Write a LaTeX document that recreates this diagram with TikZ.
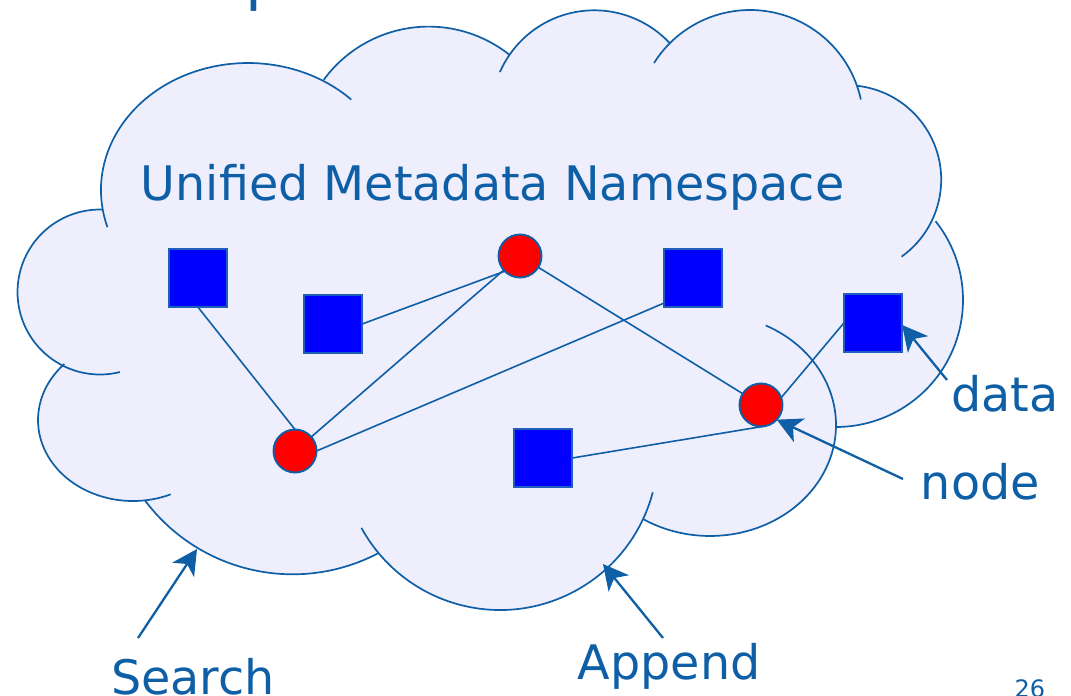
\documentclass[tikz,border=0pt]{standalone}
\usepackage{fontspec}
\setmainfont{DejaVu Sans}
\usetikzlibrary{arrows.meta,calc}
\definecolor{linecol}{RGB}{14,95,166}
\definecolor{cloudbg}{RGB}{238,238,252}
\definecolor{sqblue}{RGB}{0,0,255}
\definecolor{dotred}{RGB}{255,0,0}
\definecolor{sqedge}{RGB}{30,95,190}
\begin{document}
\begin{tikzpicture}[x=1pt,y=1pt,
  cloudline/.style={draw=linecol,line width=1.7pt},
  edge/.style={draw=linecol,line width=1.6pt},
  datasq/.style={draw=sqedge,fill=sqblue,line width=1.7pt,minimum size=58.3pt,inner sep=0pt,outer sep=0pt},
  nodedot/.style={circle,draw=linecol,fill=dotred,line width=1.9pt,minimum size=43pt,inner sep=0pt,outer sep=0pt},
  ptr/.style={draw=linecol,line width=2.3pt,-{Stealth[length=25pt,width=26pt,inset=7pt]}},
  lbl/.style={text=linecol,font=\fontsize{47.6}{57}\selectfont,inner sep=0pt,anchor=base west}]
\useasboundingbox (0,0) rectangle (1071,-696);
% cloud fill
\fill[cloudbg]
 ($(248,-190)+(188.6:147 and 127)$) arc[start angle=188.6,end angle=59.2,x radius=147,y radius=127]
 -- ($(428.6,-156.6)+(143.8:130)$) arc[start angle=143.8,end angle=51.6,radius=130]
 -- ($(594.3,-113.3)+(145.7:103)$) arc[start angle=145.7,end angle=42.9,radius=103]
 -- ($(750,-123.4)+(134.9:113.4)$) arc[start angle=134.9,end angle=19.3,radius=113.4]
 -- ($(846.7,-179.7)+(83.5:94.5)$) arc[start angle=83.5,end angle=-25.8,radius=94.5]
 -- ($(836,-300)+(38.4:127)$) arc[start angle=38.4,end angle=-90,radius=127]
 -- ($(710,-425)+(0:126 and 111)$) arc[start angle=0,end angle=-122.1,x radius=126,y radius=111]
 -- ($(500,-452)+(-25.1:158)$) arc[start angle=-25.1,end angle=-140.4,radius=158]
 -- ($(292.6,-389.8)+(-62.4:184.5)$) arc[start angle=-62.4,end angle=-143.3,radius=184.5]
 -- ($(133,-420)+(277.3:95 and 81)$) arc[start angle=277.3,end angle=136.3,x radius=95,y radius=81]
 -- ($(100,-292)+(242.5:82.5)$) arc[start angle=242.5,end angle=88.6,radius=82.5]
 -- cycle;
% cloud outline with inner tails
\draw[cloudline] ($(248,-190)+(197:147 and 127)$) arc[start angle=197,end angle=45.4,x radius=147,y radius=127];
\draw[cloudline] ($(428.6,-156.6)+(143.8:130)$) arc[start angle=143.8,end angle=51.6,radius=130];
\draw[cloudline] ($(594.3,-113.3)+(156.4:103)$) arc[start angle=156.4,end angle=42.9,radius=103];
\draw[cloudline] ($(750,-123.4)+(147.8:113.4)$) arc[start angle=147.8,end angle=12.2,radius=113.4];
\draw[cloudline] ($(846.7,-179.7)+(83.5:94.5)$) arc[start angle=83.5,end angle=-54.5,radius=94.5];
\draw[cloudline] ($(836,-300)+(38.4:127)$) arc[start angle=38.4,end angle=-90,radius=127];
\draw[cloudline] ($(710,-425)+(63.7:126 and 111)$) arc[start angle=63.7,end angle=-122.1,x radius=126,y radius=111];
\draw[cloudline] ($(500,-452)+(-14.8:158)$) arc[start angle=-14.8,end angle=-151.3,radius=158];
\draw[cloudline] ($(292.6,-389.8)+(-62.4:184.5)$) arc[start angle=-62.4,end angle=-143.3,radius=184.5];
\draw[cloudline] ($(133,-420)+(293.4:95 and 81)$) arc[start angle=293.4,end angle=136.3,x radius=95,y radius=81];
\draw[cloudline] ($(100,-292)+(284:82.5)$) arc[start angle=284,end angle=88.6,radius=82.5];
% nodes
\node[datasq] (s1) at (198,-278) {};
\node[datasq] (s2) at (333,-324) {};
\node[datasq] (s3) at (693,-278) {};
\node[datasq] (s4) at (873,-323) {};
\node[datasq] (s5) at (543,-458) {};
\node[nodedot] (c0) at (520,-256) {};
\node[nodedot] (c1) at (295,-451) {};
\node[nodedot] (c2) at (761,-405) {};
% edges
\draw[edge] (s1.south) -- (c1.north);
\draw[edge] (s2.east) -- (c0.225);
\draw[edge] (c0) -- (c1);
\draw[edge] (c0) -- (c2);
\draw[edge] ($(s3.south west)+(0,4)$) -- (c1.east);
\draw[edge] (s4.west) -- (c2.20);
\draw[edge] (s5.east) -- (c2.-85);
% texts
\node[lbl] (title) at (140.7,-200.5) {Unified Metadata Namespace};
\node[lbl] (ldata) at (951.3,-411) {data};
\node[lbl] (lnode) at (920.7,-499) {node};
\node[lbl] (lappend) at (577.6,-679) {Append};
\node[lbl] (lsearch) at (111,-694) {Search};
\node[text=linecol,font=\fontsize{62}{72}\selectfont,inner sep=0pt,anchor=base west] (ttl) at (245,1.2) {p};
\node[text=linecol,font=\fontsize{24}{28}\selectfont,inner sep=0pt,anchor=base west] (pg) at (1014.5,-697.5) {26};
% pointer arrows
\coordinate (tsearch) at (138,-638);
\coordinate (hsearch) at (197,-549);
\coordinate (tappend) at (663,-638);
\coordinate (happend) at (603,-564);
\coordinate (tnode) at (903,-479);
\coordinate (tdata) at (947,-380);
\draw[ptr] (tsearch) -- (hsearch);
\draw[ptr] (tappend) -- (happend);
\draw[ptr] (tnode) -- (c2.-43);
\draw[ptr] (tdata) -- ($(s4.east)+(0,-2)$);
\end{tikzpicture}
\end{document}
